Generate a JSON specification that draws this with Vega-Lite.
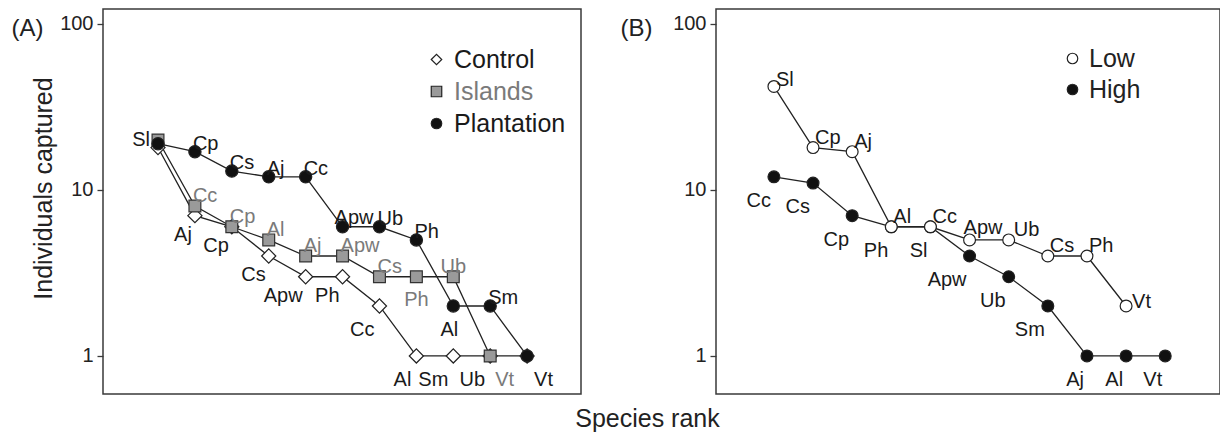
{
  "$schema": "https://vega.github.io/schema/vega-lite/v6.json",
  "padding": {"left": 10, "top": 8, "right": 0, "bottom": 0},
  "background": "white",
  "config": {
    "font": "Liberation Sans",
    "view": {"stroke": "#3a3a3a", "strokeWidth": 1.5},
    "axis": {"labelFontSize": 20, "labelColor": "#222", "tickColor": "#3a3a3a", "tickWidth": 1.3, "tickSize": 6, "labelPadding": 4, "domain": false, "grid": false, "titleFontWeight": "normal", "titleColor": "#222"},
    "legend": {"labelFontSize": 25, "labelColor": "#222", "rowPadding": 6, "labelOffset": 9, "symbolStrokeColor": "#222", "symbolStrokeWidth": 1.2, "symbolSize": 110, "padding": 0}
  },
  "resolve": {"scale": {"fill": "independent"}, "legend": {"fill": "independent"}},
  "datasets": {
    "a": [
      {"g": "Control", "r": 1, "sp": "Sl", "n": 18},
      {"g": "Control", "r": 2, "sp": "Aj", "n": 7},
      {"g": "Control", "r": 3, "sp": "Cp", "n": 6},
      {"g": "Control", "r": 4, "sp": "Cs", "n": 4},
      {"g": "Control", "r": 5, "sp": "Apw", "n": 3},
      {"g": "Control", "r": 6, "sp": "Ph", "n": 3},
      {"g": "Control", "r": 7, "sp": "Cc", "n": 2},
      {"g": "Control", "r": 8, "sp": "Al", "n": 1},
      {"g": "Control", "r": 9, "sp": "Sm", "n": 1},
      {"g": "Control", "r": 10, "sp": "Ub", "n": 1},
      {"g": "Control", "r": 11, "sp": "Vt", "n": 1},
      {"g": "Islands", "r": 1, "sp": "Sl", "n": 20},
      {"g": "Islands", "r": 2, "sp": "Cc", "n": 8},
      {"g": "Islands", "r": 3, "sp": "Cp", "n": 6},
      {"g": "Islands", "r": 4, "sp": "Al", "n": 5},
      {"g": "Islands", "r": 5, "sp": "Aj", "n": 4},
      {"g": "Islands", "r": 6, "sp": "Apw", "n": 4},
      {"g": "Islands", "r": 7, "sp": "Cs", "n": 3},
      {"g": "Islands", "r": 8, "sp": "Ph", "n": 3},
      {"g": "Islands", "r": 9, "sp": "Ub", "n": 3},
      {"g": "Islands", "r": 10, "sp": "Vt", "n": 1},
      {"g": "Plantation", "r": 1, "sp": "Sl", "n": 19},
      {"g": "Plantation", "r": 2, "sp": "Cp", "n": 17},
      {"g": "Plantation", "r": 3, "sp": "Cs", "n": 13},
      {"g": "Plantation", "r": 4, "sp": "Aj", "n": 12},
      {"g": "Plantation", "r": 5, "sp": "Cc", "n": 12},
      {"g": "Plantation", "r": 6, "sp": "Apw", "n": 6},
      {"g": "Plantation", "r": 7, "sp": "Ub", "n": 6},
      {"g": "Plantation", "r": 8, "sp": "Ph", "n": 5},
      {"g": "Plantation", "r": 9, "sp": "Al", "n": 2},
      {"g": "Plantation", "r": 10, "sp": "Sm", "n": 2},
      {"g": "Plantation", "r": 11, "sp": "Vt", "n": 1}
    ],
    "b": [
      {"g": "High", "r": 1, "sp": "Cc", "n": 12},
      {"g": "High", "r": 2, "sp": "Cs", "n": 11},
      {"g": "High", "r": 3, "sp": "Cp", "n": 7},
      {"g": "High", "r": 4, "sp": "Ph", "n": 6},
      {"g": "High", "r": 5, "sp": "Sl", "n": 6},
      {"g": "High", "r": 6, "sp": "Apw", "n": 4},
      {"g": "High", "r": 7, "sp": "Ub", "n": 3},
      {"g": "High", "r": 8, "sp": "Sm", "n": 2},
      {"g": "High", "r": 9, "sp": "Aj", "n": 1},
      {"g": "High", "r": 10, "sp": "Al", "n": 1},
      {"g": "High", "r": 11, "sp": "Vt", "n": 1},
      {"g": "Low", "r": 1, "sp": "Sl", "n": 42},
      {"g": "Low", "r": 2, "sp": "Cp", "n": 18},
      {"g": "Low", "r": 3, "sp": "Aj", "n": 17},
      {"g": "Low", "r": 4, "sp": "Al", "n": 6},
      {"g": "Low", "r": 5, "sp": "Cc", "n": 6},
      {"g": "Low", "r": 6, "sp": "Apw", "n": 5},
      {"g": "Low", "r": 7, "sp": "Ub", "n": 5},
      {"g": "Low", "r": 8, "sp": "Cs", "n": 4},
      {"g": "Low", "r": 9, "sp": "Ph", "n": 4},
      {"g": "Low", "r": 10, "sp": "Vt", "n": 2}
    ]
  },
  "bounds": "flush",
  "spacing": 135,
  "hconcat": [
    {
      "width": 478,
      "height": 385,
      "data": {"name": "a"},
      "encoding": {
        "x": {"field": "r", "type": "quantitative", "scale": {"domain": [-0.49, 12.46], "nice": false, "zero": false},
              "axis": {"ticks": false, "labels": false, "title": "(A)", "titleFontSize": 24, "titleX": -76, "titleY": -366, "titleAlign": "center", "titleBaseline": "middle"}},
        "y": {"field": "n", "type": "quantitative", "scale": {"type": "log", "domain": [0.59, 123], "nice": false, "zero": false},
              "axis": {"values": [1, 10, 100], "format": "d", "title": "Individuals captured", "titleFontSize": 25, "titleX": -60, "titleY": 179, "titleAngle": 270, "titleAlign": "center", "titleBaseline": "middle"}}
      },
      "layer": [
        {"mark": {"type": "line", "color": "#222", "strokeWidth": 1.3}, "encoding": {"detail": {"field": "g"}}},
        {"transform": [{"filter": {"field": "g", "equal": "Control"}}],
         "mark": {"type": "point", "filled": true, "shape": "diamond", "size": 200, "stroke": "#222", "strokeWidth": 1.2, "opacity": 1},
         "encoding": {
           "fill": {"field": "g", "type": "nominal", "scale": {"domain": ["Control", "Islands", "Plantation"], "range": ["#ffffff", "#9a9a9a", "#111111"]},
                    "legend": {"title": null, "orient": "none", "legendX": 321, "legendY": 38, "labelOffset": 5,
                               "symbolType": {"expr": "datum.value === 'Control' ? 'diamond' : datum.value === 'Islands' ? 'square' : 'circle'"},
                               "labelColor": {"expr": "datum.label === 'Islands' ? '#7a7a7a' : '#1a1a1a'"},
                               "encode": {"symbols": {"update": {"stroke": {"value": "#222"}, "strokeWidth": {"value": 1.2}}}}}}
         }},
        {"transform": [{"filter": {"field": "g", "equal": "Islands"}}],
         "mark": {"type": "point", "filled": true, "shape": "square", "size": 140, "stroke": "#333", "strokeWidth": 1.2, "opacity": 1},
         "encoding": {"fill": {"field": "g", "type": "nominal"}}},
        {"transform": [{"filter": {"field": "g", "equal": "Plantation"}}],
         "mark": {"type": "point", "filled": true, "shape": "circle", "size": 150, "stroke": "#222", "strokeWidth": 1.2, "opacity": 1},
         "encoding": {"fill": {"field": "g", "type": "nominal"}}},
        {"transform": [{"filter": {"and": [{"field": "g", "equal": "Plantation"}, {"field": "r", "equal": 1}]}}],
         "mark": {"type": "text", "fontSize": 20, "align": "right", "dx": -8, "dy": -4, "color": "#1a1a1a"}, "encoding": {"text": {"field": "sp"}}},
        {"transform": [{"filter": {"and": [{"field": "g", "equal": "Plantation"}, {"field": "r", "oneOf": [2, 3, 4, 5, 7, 8, 10]}]}}],
         "mark": {"type": "text", "fontSize": 20, "align": "left", "dx": -2, "dy": -8, "color": "#1a1a1a"}, "encoding": {"text": {"field": "sp"}}},
        {"transform": [{"filter": {"and": [{"field": "g", "equal": "Plantation"}, {"field": "r", "equal": 6}]}}],
         "mark": {"type": "text", "fontSize": 20, "align": "left", "dx": -8, "dy": -9, "color": "#1a1a1a"}, "encoding": {"text": {"field": "sp"}}},
        {"transform": [{"filter": {"and": [{"field": "g", "equal": "Plantation"}, {"field": "r", "equal": 9}]}}],
         "mark": {"type": "text", "fontSize": 20, "align": "center", "dx": -4, "dy": 24, "color": "#1a1a1a"}, "encoding": {"text": {"field": "sp"}}},
        {"transform": [{"filter": {"and": [{"field": "g", "equal": "Plantation"}, {"field": "r", "equal": 11}]}}],
         "mark": {"type": "text", "fontSize": 20, "align": "left", "dx": 7, "dy": 24, "color": "#1a1a1a"}, "encoding": {"text": {"field": "sp"}}},
        {"transform": [{"filter": {"and": [{"field": "g", "equal": "Islands"}, {"field": "r", "oneOf": [2, 3, 4, 5, 6, 7]}]}}],
         "mark": {"type": "text", "fontSize": 20, "align": "left", "dx": -2, "dy": -10, "color": "#7a7a7a"}, "encoding": {"text": {"field": "sp"}}},
        {"transform": [{"filter": {"and": [{"field": "g", "equal": "Islands"}, {"field": "r", "equal": 9}]}}],
         "mark": {"type": "text", "fontSize": 20, "align": "center", "dx": 0, "dy": -10, "color": "#7a7a7a"}, "encoding": {"text": {"field": "sp"}}},
        {"transform": [{"filter": {"and": [{"field": "g", "equal": "Islands"}, {"field": "r", "equal": 8}]}}],
         "mark": {"type": "text", "fontSize": 20, "align": "center", "dx": 0, "dy": 23, "color": "#7a7a7a"}, "encoding": {"text": {"field": "sp"}}},
        {"transform": [{"filter": {"and": [{"field": "g", "equal": "Islands"}, {"field": "r", "equal": 10}]}}],
         "mark": {"type": "text", "fontSize": 20, "align": "left", "dx": 5, "dy": 24, "color": "#7a7a7a"}, "encoding": {"text": {"field": "sp"}}},
        {"transform": [{"filter": {"and": [{"field": "g", "equal": "Control"}, {"field": "r", "oneOf": [2, 3, 4, 5, 6]}]}}],
         "mark": {"type": "text", "fontSize": 20, "align": "right", "dx": -3, "dy": 19, "color": "#1a1a1a"}, "encoding": {"text": {"field": "sp"}}},
        {"transform": [{"filter": {"and": [{"field": "g", "equal": "Control"}, {"field": "r", "oneOf": [7, 8, 9, 10]}]}}],
         "mark": {"type": "text", "fontSize": 20, "align": "right", "dx": -5, "dy": 24, "color": "#1a1a1a"}, "encoding": {"text": {"field": "sp"}}}
      ]
    },
    {
      "width": 504,
      "height": 385,
      "data": {"name": "b"},
      "encoding": {
        "x": {"field": "r", "type": "quantitative", "scale": {"domain": [-0.48, 12.4], "nice": false, "zero": false},
              "axis": {"ticks": false, "labels": false, "title": "Species rank", "titleFontSize": 25, "titleX": -69, "titleY": 24, "titleAlign": "center", "titleBaseline": "middle"}},
        "y": {"field": "n", "type": "quantitative", "scale": {"type": "log", "domain": [0.59, 123], "nice": false, "zero": false},
              "axis": {"values": [1, 10, 100], "format": "d", "title": "(B)", "titleFontSize": 24, "titleAngle": 0, "titleX": -80, "titleY": 19, "titleAlign": "center", "titleBaseline": "middle"}}
      },
      "layer": [
        {"mark": {"type": "line", "color": "#222", "strokeWidth": 1.3}, "encoding": {"detail": {"field": "g"}}},
        {"mark": {"type": "point", "filled": true, "size": 140, "stroke": "#222", "strokeWidth": 1.2, "opacity": 1, "shape": "circle"},
         "encoding": {
           "fill": {"field": "g", "type": "nominal", "scale": {"domain": ["Low", "High"], "range": ["#ffffff", "#111111"]},
                    "legend": {"title": null, "orient": "none", "legendX": 344, "legendY": 37, "rowPadding": 5, "labelOffset": 4, "symbolType": "circle",
                               "encode": {"symbols": {"update": {"stroke": {"value": "#222"}, "strokeWidth": {"value": 1.2}}}}}}
         }},
        {"transform": [{"filter": {"and": [{"field": "g", "equal": "Low"}, {"field": "r", "oneOf": [2, 3, 4, 5, 8, 9]}]}}],
         "mark": {"type": "text", "fontSize": 20, "align": "left", "dx": 2, "dy": -10, "color": "#1a1a1a"}, "encoding": {"text": {"field": "sp"}}},
        {"transform": [{"filter": {"and": [{"field": "g", "equal": "Low"}, {"field": "r", "equal": 1}]}}],
         "mark": {"type": "text", "fontSize": 20, "align": "left", "dx": 2, "dy": -6, "color": "#1a1a1a"}, "encoding": {"text": {"field": "sp"}}},
        {"transform": [{"filter": {"and": [{"field": "g", "equal": "Low"}, {"field": "r", "equal": 6}]}}],
         "mark": {"type": "text", "fontSize": 20, "align": "left", "dx": -6, "dy": -12, "color": "#1a1a1a"}, "encoding": {"text": {"field": "sp"}}},
        {"transform": [{"filter": {"and": [{"field": "g", "equal": "Low"}, {"field": "r", "equal": 7}]}}],
         "mark": {"type": "text", "fontSize": 20, "align": "left", "dx": 5, "dy": -10, "color": "#1a1a1a"}, "encoding": {"text": {"field": "sp"}}},
        {"transform": [{"filter": {"and": [{"field": "g", "equal": "Low"}, {"field": "r", "equal": 10}]}}],
         "mark": {"type": "text", "fontSize": 20, "align": "left", "dx": 6, "dy": -4, "color": "#1a1a1a"}, "encoding": {"text": {"field": "sp"}}},
        {"transform": [{"filter": {"field": "g", "equal": "High"}}],
         "mark": {"type": "text", "fontSize": 20, "align": "right", "dx": -3, "dy": 24, "color": "#1a1a1a"}, "encoding": {"text": {"field": "sp"}}}
      ]
    }
  ]
}
